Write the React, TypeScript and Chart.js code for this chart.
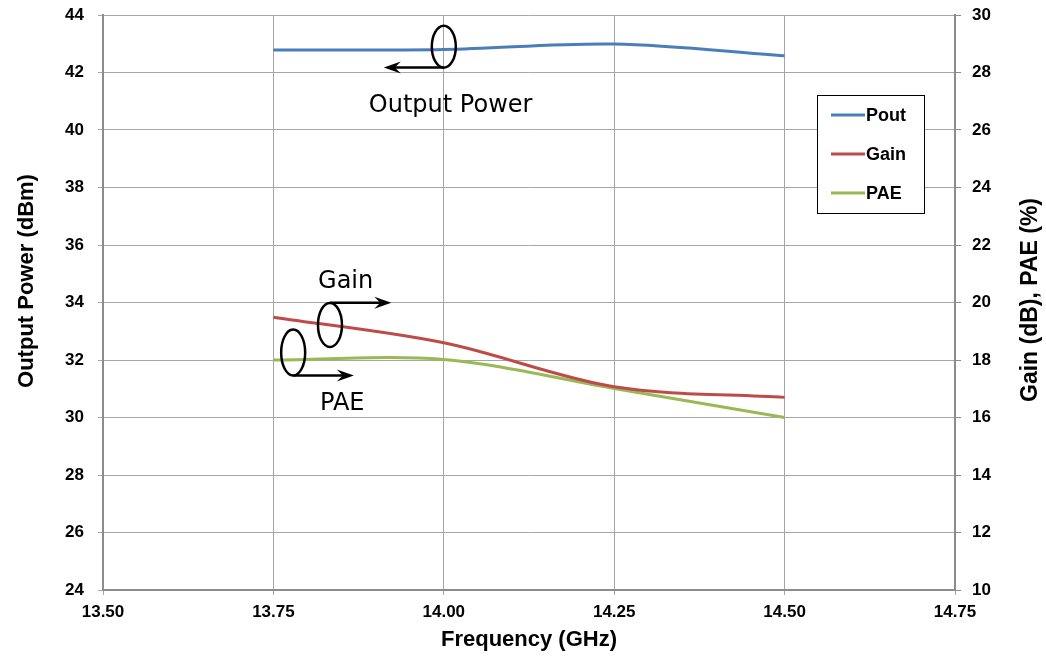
import React, { useEffect, useRef } from "react";
import { Chart, registerables } from "chart.js";

Chart.register(...registerables);

// ---- data ----
const frequencyGHz = [13.75, 14.0, 14.25, 14.5];
const poutDbm = [42.78, 42.8, 42.99, 42.58];
const gainDb = [19.49, 18.6, 17.07, 16.7];
const paePct = [18.0, 18.02, 17.01, 16.0];

const seriesNames = ["Pout", "Gain", "PAE"];
const seriesColors = ["#4a7ebb", "#be4b48", "#98b954"];

const xTitle = "Frequency (GHz)";
const yLeftTitle = "Output Power (dBm)";
const yRightTitle = "Gain (dB), PAE (%)";

// annotation callouts (in left-axis data coordinates; ty = text baseline)
const callouts = [
  { label: "Output Power", ex: 14.0, ey: 42.9, ry: 21, ay: 42.17, ax2: 13.912, tx: 14.01, ty: 40.63 },
  { label: "Gain", ex: 13.833, ey: 33.22, ry: 22, ay: 33.99, ax2: 13.923, tx: 13.856, ty: 34.5 },
  { label: "PAE", ex: 13.779, ey: 32.26, ry: 23, ay: 31.46, ax2: 13.868, tx: 13.851, ty: 30.26 },
];

const FONT = "'Liberation Sans', Arial, sans-serif";

const overlayPlugin = {
  id: "overlay",
  afterDatasetsDraw(chart: any) {
    const ctx = chart.ctx as CanvasRenderingContext2D;
    const xs = chart.scales.x;
    const ys = chart.scales.y;
    ctx.save();
    // callouts
    ctx.strokeStyle = "#000";
    ctx.fillStyle = "#000";
    ctx.lineWidth = 2.5;
    for (const c of callouts) {
      const cx = xs.getPixelForValue(c.ex);
      const cy = ys.getPixelForValue(c.ey);
      ctx.beginPath();
      ctx.ellipse(cx, cy, 12, c.ry, 0, 0, Math.PI * 2);
      ctx.stroke();
      const ay = ys.getPixelForValue(c.ay);
      const x2 = xs.getPixelForValue(c.ax2);
      const dir = x2 > cx ? 1 : -1;
      const headLen = 17;
      ctx.beginPath();
      ctx.moveTo(cx, ay);
      ctx.lineTo(x2 - dir * headLen * 0.6, ay);
      ctx.stroke();
      ctx.beginPath();
      ctx.moveTo(x2, ay);
      ctx.lineTo(x2 - dir * headLen, ay - 6);
      ctx.lineTo(x2 - dir * headLen * 0.65, ay);
      ctx.lineTo(x2 - dir * headLen, ay + 6);
      ctx.closePath();
      ctx.fill();
      ctx.font = "24px 'DejaVu Sans', Verdana, sans-serif";
      ctx.textAlign = "center";
      ctx.textBaseline = "alphabetic";
      ctx.fillText(c.label, xs.getPixelForValue(c.tx), ys.getPixelForValue(c.ty));
    }
    // legend box
    const lx = 817, ly = 95, lw = 107, lh = 118;
    ctx.fillStyle = "#fff";
    ctx.fillRect(lx, ly, lw, lh);
    ctx.strokeStyle = "#000";
    ctx.lineWidth = 1;
    ctx.strokeRect(lx + 0.5, ly + 0.5, lw, lh);
    chart.data.datasets.forEach((ds: any, i: number) => {
      const yy = ly + 20 + i * 39;
      ctx.strokeStyle = ds.borderColor;
      ctx.lineWidth = 3;
      ctx.beginPath();
      ctx.moveTo(lx + 14, yy);
      ctx.lineTo(lx + 48, yy);
      ctx.stroke();
      ctx.fillStyle = "#000";
      ctx.font = `bold 18px ${FONT}`;
      ctx.textAlign = "left";
      ctx.textBaseline = "middle";
      ctx.fillText(ds.label, lx + 49, yy + 1);
    });
    // y titles (both read bottom-to-top)
    ctx.fillStyle = "#000";
    ctx.textAlign = "center";
    ctx.textBaseline = "middle";
    ctx.save();
    ctx.font = `bold 22px ${FONT}`;
    ctx.translate(27, 281);
    ctx.rotate(-Math.PI / 2);
    ctx.fillText(yLeftTitle, 0, 0);
    ctx.restore();
    ctx.save();
    ctx.font = `bold 23px ${FONT}`;
    ctx.translate(1031, 300);
    ctx.rotate(-Math.PI / 2);
    ctx.fillText(yRightTitle, 0, 0);
    ctx.restore();
    ctx.restore();
  },
};

const fitY = (w: number) => (s: any) => {
  s.width = w;
  s.paddingTop = 0;
  s.paddingBottom = 0;
};

export default function App() {
  const ref = useRef<HTMLCanvasElement | null>(null);
  useEffect(() => {
    document.body.style.margin = "0";
    if (!ref.current) return;
    const mk = (vals: number[]) => frequencyGHz.map((f, i) => ({ x: f, y: vals[i] }));
    const chart = new Chart(ref.current, {
      type: "line",
      data: {
        datasets: [
          { label: seriesNames[0], data: mk(poutDbm), borderColor: seriesColors[0], yAxisID: "y" },
          { label: seriesNames[1], data: mk(gainDb), borderColor: seriesColors[1], yAxisID: "y1" },
          { label: seriesNames[2], data: mk(paePct), borderColor: seriesColors[2], yAxisID: "y1" },
        ].map((d) => ({ ...d, borderWidth: 3, pointRadius: 0, tension: 0.33, fill: false })),
      },
      options: {
        animation: false,
        responsive: true,
        maintainAspectRatio: false,
        layout: { padding: { top: 15, left: 0, right: 0, bottom: 0 } },
        plugins: { legend: { display: false }, tooltip: { enabled: false } },
        scales: {
          x: {
            type: "linear",
            min: 13.5,
            max: 14.75,
            afterFit: (s: any) => {
              s.height = 68;
              s.paddingLeft = 0;
              s.paddingRight = 0;
            },
            ticks: {
              stepSize: 0.25,
              callback: (v: any) => Number(v).toFixed(2),
              color: "#000",
              font: { family: FONT, size: 17, weight: "bold" },
              padding: 7,
              maxRotation: 0,
            },
            grid: { color: "#a6a6a6", lineWidth: 1, tickLength: 5 },
            border: { color: "#8c8c8c", width: 2 },
            title: {
              display: true,
              text: xTitle,
              color: "#000",
              font: { family: FONT, size: 22, weight: "bold" },
              padding: { top: 0, bottom: 5 },
            },
          },
          y: {
            position: "left",
            min: 24,
            max: 44,
            afterFit: fitY(103),
            ticks: {
              stepSize: 2,
              color: "#000",
              font: { family: FONT, size: 17, weight: "bold" },
              padding: 14,
            },
            grid: { color: "#a6a6a6", lineWidth: 1, tickLength: 5 },
            border: { color: "#8c8c8c", width: 2 },
          },
          y1: {
            position: "right",
            min: 10,
            max: 30,
            afterFit: fitY(91),
            ticks: {
              stepSize: 2,
              color: "#000",
              font: { family: FONT, size: 17, weight: "bold" },
              padding: 11,
            },
            grid: { drawOnChartArea: false, color: "#8c8c8c", tickLength: 6 },
            border: { color: "#8c8c8c", width: 2 },
          },
        },
      } as any,
      plugins: [overlayPlugin],
    });
    return () => chart.destroy();
  }, []);
  return (
    <div style={{ position: "relative", width: 1046, height: 658 }}>
      <canvas ref={ref} />
    </div>
  );
}
